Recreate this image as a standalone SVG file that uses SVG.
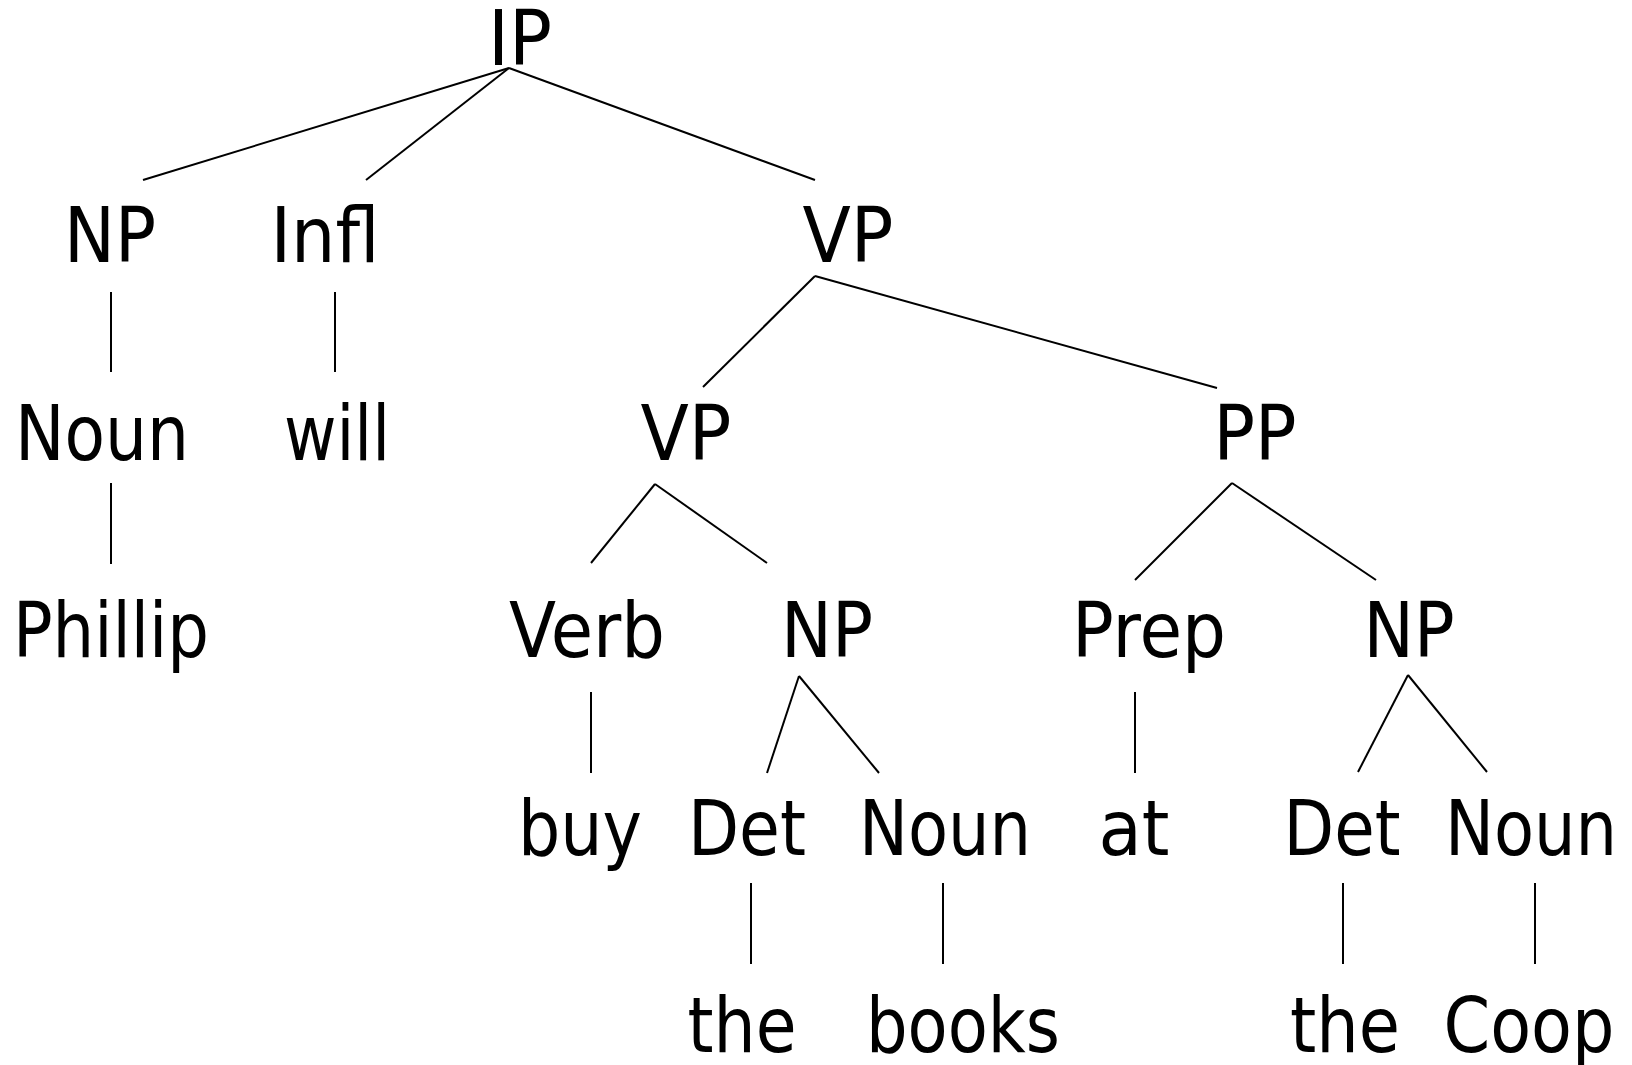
<svg xmlns="http://www.w3.org/2000/svg" width="1632" height="1065" viewBox="0 0 1632 1065">
<style>
text { font-family: "DejaVu Sans", "Liberation Sans", sans-serif; font-size: 77px; fill: #000; text-anchor: middle; }
.edges line { stroke: #000; stroke-width: 2; stroke-linecap: butt; }
</style>
<rect width="1632" height="1065" fill="#fff"/>
<g class="edges" id="connectors">
<line x1="509" y1="68" x2="143" y2="180"/>
<line x1="509" y1="68" x2="366" y2="180"/>
<line x1="509" y1="68" x2="815" y2="180"/>
<line x1="111" y1="292" x2="111" y2="372"/>
<line x1="335" y1="292" x2="335" y2="372"/>
<line x1="815" y1="276" x2="703" y2="387"/>
<line x1="815" y1="276" x2="1217" y2="388"/>
<line x1="111" y1="483" x2="111" y2="564"/>
<line x1="655" y1="484" x2="591" y2="563"/>
<line x1="655" y1="484" x2="767" y2="563"/>
<line x1="1232" y1="483" x2="1135" y2="580"/>
<line x1="1232" y1="483" x2="1376" y2="580"/>
<line x1="591" y1="692" x2="591" y2="773"/>
<line x1="799" y1="676" x2="767" y2="773"/>
<line x1="799" y1="676" x2="879" y2="773"/>
<line x1="1135" y1="692" x2="1135" y2="773"/>
<line x1="1408" y1="675" x2="1358" y2="772"/>
<line x1="1408" y1="675" x2="1487" y2="772"/>
<line x1="751" y1="883" x2="751" y2="964"/>
<line x1="943" y1="883" x2="943" y2="964"/>
<line x1="1343" y1="883" x2="1343" y2="964"/>
<line x1="1535" y1="883" x2="1535" y2="964"/>
</g>
<g id="n-ip"><text x="520" y="65" textLength="64" lengthAdjust="spacingAndGlyphs">IP</text></g>
<g id="n-np1"><text x="110" y="262" textLength="92" lengthAdjust="spacingAndGlyphs">NP</text></g>
<g id="n-infl"><text x="325" y="262" textLength="109" lengthAdjust="spacingAndGlyphs">Infl</text></g>
<g id="n-vp1"><text x="848" y="262" textLength="91" lengthAdjust="spacingAndGlyphs">VP</text></g>
<g id="n-noun1"><text x="102" y="460" textLength="174" lengthAdjust="spacingAndGlyphs">Noun</text></g>
<g id="n-will"><text x="337" y="460" textLength="106" lengthAdjust="spacingAndGlyphs">will</text></g>
<g id="n-vp2"><text x="686" y="460" textLength="91" lengthAdjust="spacingAndGlyphs">VP</text></g>
<g id="n-pp"><text x="1255" y="460" textLength="83" lengthAdjust="spacingAndGlyphs">PP</text></g>
<g id="n-phillip"><text x="111" y="657" textLength="196" lengthAdjust="spacingAndGlyphs">Phillip</text></g>
<g id="n-verb"><text x="587" y="657" textLength="156" lengthAdjust="spacingAndGlyphs">Verb</text></g>
<g id="n-np2"><text x="827" y="657" textLength="92" lengthAdjust="spacingAndGlyphs">NP</text></g>
<g id="n-prep"><text x="1149" y="657" textLength="154" lengthAdjust="spacingAndGlyphs">Prep</text></g>
<g id="n-np3"><text x="1409" y="657" textLength="91" lengthAdjust="spacingAndGlyphs">NP</text></g>
<g id="n-buy"><text x="580" y="855" textLength="124" lengthAdjust="spacingAndGlyphs">buy</text></g>
<g id="n-det1"><text x="747" y="855" textLength="118" lengthAdjust="spacingAndGlyphs">Det</text></g>
<g id="n-noun2"><text x="945" y="855" textLength="172" lengthAdjust="spacingAndGlyphs">Noun</text></g>
<g id="n-at"><text x="1134" y="855" textLength="71" lengthAdjust="spacingAndGlyphs">at</text></g>
<g id="n-det2"><text x="1342" y="855" textLength="117" lengthAdjust="spacingAndGlyphs">Det</text></g>
<g id="n-noun3"><text x="1531" y="855" textLength="172" lengthAdjust="spacingAndGlyphs">Noun</text></g>
<g id="n-the1"><text x="742" y="1052" textLength="109" lengthAdjust="spacingAndGlyphs">the</text></g>
<g id="n-books"><text x="963" y="1052" textLength="194" lengthAdjust="spacingAndGlyphs">books</text></g>
<g id="n-the2"><text x="1345" y="1052" textLength="110" lengthAdjust="spacingAndGlyphs">the</text></g>
<g id="n-coop"><text x="1529" y="1052" textLength="171" lengthAdjust="spacingAndGlyphs">Coop</text></g>
</svg>
